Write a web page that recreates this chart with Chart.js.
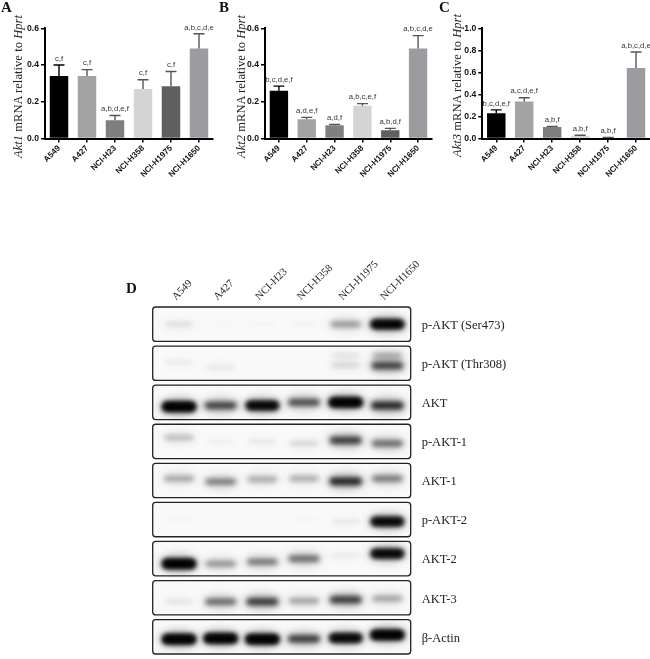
<!DOCTYPE html>
<html>
<head>
<meta charset="utf-8">
<script src="https://cdn.jsdelivr.net/npm/chart.js@4"></script>
<style>
html,body{margin:0;padding:0;background:#fff;width:650px;height:659px;overflow:hidden}
canvas{position:absolute;display:block;filter:blur(.3px)}
.t{position:absolute;font-family:"Liberation Serif",serif;color:#222;white-space:nowrap}
.letter{font-weight:bold;font-size:15px;line-height:15px;color:#111}
.ylab{font-size:12.4px;line-height:14px;width:14px;writing-mode:vertical-rl;transform:rotate(180deg);letter-spacing:.1px}
</style>
</head>
<body>
<canvas id="a" style="left:0;top:0" width="222" height="190"></canvas>
<canvas id="b" style="left:222px;top:0" width="218" height="190"></canvas>
<canvas id="c" style="left:440px;top:0" width="210" height="190"></canvas>
<canvas id="d" style="left:120px;top:240px" width="400" height="419"></canvas>
<div class="t letter" style="left:1px;top:0">A</div>
<div class="t letter" style="left:219px;top:0">B</div>
<div class="t letter" style="left:439px;top:0">C</div>
<div class="t letter" style="left:126px;top:281px">D</div>
<div class="t ylab" style="left:11px;top:15px"><i>Akt1</i> mRNA relative to <i>Hprt</i></div>
<div class="t ylab" style="left:234px;top:15px"><i>Akt2</i> mRNA relative to <i>Hprt</i></div>
<div class="t ylab" style="left:450px;top:14px"><i>Akt3</i> mRNA relative to <i>Hprt</i></div>
<script>
const cellLines = ["A549","A427","NCI-H23","NCI-H358","NCI-H1975","NCI-H1650"];
const barColors = ["#000000","#a3a3a3","#7f7f7f","#d4d4d4","#5f5f5f","#9c9ca0"];

const akt1Values = [0.34,0.34,0.10,0.27,0.285,0.49];
const akt1Upper  = [0.40,0.375,0.125,0.32,0.365,0.57];
const akt1Marks  = ["c,f","c,f","a,b,d,e,f","c,f","c,f","a,b,c,d,e"];

const akt2Values = [0.26,0.105,0.072,0.178,0.045,0.49];
const akt2Upper  = [0.285,0.115,0.077,0.19,0.055,0.56];
const akt2Marks  = ["b,c,d,e,f","a,d,e,f","a,d,f","a,b,c,e,f","a,b,d,f","a,b,c,d,e"];

const akt3Values = [0.23,0.335,0.105,0.025,0.006,0.64];
const akt3Upper  = [0.26,0.37,0.11,0.03,0.01,0.785];
const akt3Marks  = ["b,c,d,e,f","a,c,d,e,f","a,b,f","a,b,f","a,b,f","a,b,c,d,e"];

const blotLanes = ["A549","A427","NCI-H23","NCI-H358","NCI-H1975","NCI-H1650"];
const blotRows = ["p-AKT (Ser473)","p-AKT (Thr308)","AKT","p-AKT-1","AKT-1","p-AKT-2","AKT-2","AKT-3","β-Actin"];

const densitySer473 = [0.12,0.02,0.03,0.04,0.38,0.95];
const densityThr308 = [0.07,0.08,0.0,0.0,0.15,0.72];
const densityAkt    = [1.0,0.72,0.9,0.68,1.0,0.85];
const densityPAkt1  = [0.25,0.05,0.08,0.14,0.75,0.55];
const densityAkt1   = [0.34,0.48,0.32,0.3,0.85,0.5];
const densityPAkt2  = [0.03,0.0,0.0,0.03,0.08,0.88];
const densityAkt2   = [1.0,0.4,0.5,0.55,0.08,0.9];
const densityAkt3   = [0.1,0.55,0.75,0.35,0.75,0.35];
const densityActin  = [1.0,1.0,1.0,0.75,0.88,1.0];
const upperBandThr308 = [0,0,0,0,0.1,0.3];

const migrationSer473 = [0,0,0,0,0,0];
const migrationThr308 = [-0.03,0.1,0.05,0.05,0.05,0.06];
const migrationAkt    = [0.11,0.08,0.08,0,0,0.08];
const migrationPAkt1  = [-0.1,0,0,0.05,-0.03,0.05];
const migrationAkt1   = [-0.05,0.03,-0.03,-0.05,0.02,-0.05];
const migrationPAkt2  = [0,0,0,0,0.05,0.05];
const migrationAkt2   = [0.13,0.13,0.08,0,-0.08,-0.13];
const migrationAkt3   = [0.1,0.1,0.1,0.08,0.05,0.02];
const migrationActin  = [0.06,0.04,0.06,0.05,0.03,-0.05];

const blotDensity = [densitySer473,densityThr308,densityAkt,densityPAkt1,densityAkt1,densityPAkt2,densityAkt2,densityAkt3,densityActin];
const blotMigration = [migrationSer473,migrationThr308,migrationAkt,migrationPAkt1,migrationAkt1,migrationPAkt2,migrationAkt2,migrationAkt3,migrationActin];

const SANS = '"Liberation Sans",Arial,sans-serif';
const SERIF = '"Liberation Serif","Times New Roman",serif';

const errorMarks = {
  id:'errorMarks',
  afterDatasetsDraw(chart,args,opts){
    const {ctx,scales:{y}} = chart;
    const bars = chart.getDatasetMeta(0).data;
    bars.forEach((bar,i)=>{
      const top = y.getPixelForValue(opts.upper[i]);
      ctx.save();
      ctx.strokeStyle = i===0 ? '#000' : '#555';
      ctx.lineWidth = 1.4;
      ctx.beginPath();
      ctx.moveTo(bar.x,bar.y); ctx.lineTo(bar.x,top);
      ctx.moveTo(bar.x-5.5,top); ctx.lineTo(bar.x+5.5,top);
      ctx.stroke();
      ctx.fillStyle = '#333';
      ctx.font = '7.7px '+SANS;
      ctx.textAlign = 'center';
      ctx.textBaseline = 'bottom';
      ctx.fillText(opts.marks[i],bar.x,top-2.5);
      ctx.restore();
    });
  }
};

function barChart(id,values,upper,marks,yMax,step,left,rightPad){
  new Chart(document.getElementById(id),{
    type:'bar',
    data:{labels:cellLines,datasets:[{data:values,backgroundColor:barColors,barPercentage:0.66,categoryPercentage:1}]},
    plugins:[errorMarks],
    options:{
      responsive:false,animation:false,devicePixelRatio:1,
      layout:{padding:{top:28.3,right:rightPad,left:0,bottom:0}},
      plugins:{legend:{display:false},tooltip:{enabled:false},errorMarks:{upper,marks}},
      scales:{
        x:{
          grid:{drawOnChartArea:false,color:'#000',lineWidth:1.5,tickLength:4,offset:false},
          border:{color:'#000',width:2},
          ticks:{autoSkip:false,minRotation:45,maxRotation:45,padding:1,color:'#111',font:{family:SANS,size:8.2,weight:'bold'}},
          afterFit(s){s.height=51.5;s.paddingLeft=0;s.paddingRight=0;}
        },
        y:{
          min:0,max:yMax,
          grid:{drawOnChartArea:false,color:'#000',lineWidth:1.5,tickLength:4},
          border:{color:'#000',width:2},
          ticks:{stepSize:step,padding:2,color:'#111',font:{family:SANS,size:8.6,weight:'bold'},callback:v=>v.toFixed(1)},
          afterFit(s){s.width=left;s.paddingTop=0;s.paddingBottom=0;}
        }
      }
    }
  });
}
barChart('a',akt1Values,akt1Upper,akt1Marks,0.6,0.2,45,9);
barChart('b',akt2Values,akt2Upper,akt2Marks,0.6,0.2,43,8);
barChart('c',akt3Values,akt3Upper,akt3Marks,1.0,0.2,42.3,0);

/* Western-blot panel: each band is a point whose sprite darkness comes from its density value */
const spriteCache = {};
function bandSprite(d){
  const key = d.toFixed(3);
  if(spriteCache[key]) return spriteCache[key];
  const c = document.createElement('canvas');
  c.width = 76; c.height = 40;
  const g = c.getContext('2d');
  const w = 28+5*d, h = 3+6*d;
  g.filter = 'blur(5px)';
  g.fillStyle = 'rgba(0,0,0,'+(0.32*d)+')';
  g.beginPath(); g.ellipse(38,20,w/2+3,h/2+4,0,0,Math.PI*2); g.fill();
  g.filter = 'blur(2.6px)';
  g.fillStyle = 'rgba(0,0,0,'+Math.min(1,d*0.95)+')';
  g.beginPath(); g.roundRect(38-w/2,20-h/2,w,h,h/2); g.fill();
  if(d>0.85){ g.fill(); }
  g.filter = 'none';
  spriteCache[key] = c;
  return c;
}

const bandPoints = [];
blotDensity.forEach((row,r)=>row.forEach((d,l)=>{
  if(d>0) bandPoints.push({x:l,y:r+blotMigration[r][l],d});
}));
upperBandThr308.forEach((d,l)=>{
  if(d>0) bandPoints.push({x:l,y:1-0.2,d});
});

const blotFrames = {
  id:'blotFrames',
  beforeDatasetsDraw(chart){
    const {ctx,chartArea:a,scales:{y}} = chart;
    blotRows.forEach((_,r)=>{
      const t = y.getPixelForValue(r-0.44), b = y.getPixelForValue(r+0.44);
      ctx.fillStyle = '#f9f9f9';
      ctx.beginPath(); ctx.roundRect(a.left,t,a.right-a.left,b-t,3); ctx.fill();
    });
  },
  afterDatasetsDraw(chart){
    const {ctx,chartArea:a,scales:{y}} = chart;
    ctx.save();
    ctx.strokeStyle = '#222'; ctx.lineWidth = 1.3;
    blotRows.forEach((_,r)=>{
      const t = y.getPixelForValue(r-0.44), b = y.getPixelForValue(r+0.44);
      ctx.beginPath(); ctx.roundRect(a.left,t,a.right-a.left,b-t,3); ctx.stroke();
    });
    ctx.restore();
  }
};

new Chart(document.getElementById('d'),{
  type:'scatter',
  data:{datasets:[{data:bandPoints,pointRadius:4,pointStyle:ctx=>bandSprite(ctx.raw?ctx.raw.d:0)}]},
  plugins:[blotFrames],
  options:{
    responsive:false,animation:false,devicePixelRatio:1,
    layout:{padding:{top:0,bottom:2,left:32.7,right:0}},
    plugins:{legend:{display:false},tooltip:{enabled:false}},
    scales:{
      x:{
        type:'linear',position:'top',min:-0.63,max:5.56,
        afterBuildTicks(s){s.ticks=blotLanes.map((_,i)=>({value:i}));},
        grid:{display:false},border:{display:false},
        ticks:{autoSkip:false,minRotation:45,maxRotation:45,padding:-4,labelOffset:4,color:'#222',font:{family:SERIF,size:10.6},callback:v=>blotLanes[v]},
        afterFit(s){s.height=67;s.paddingLeft=0;s.paddingRight=0;}
      },
      y:{
        type:'linear',position:'right',reverse:true,min:-0.44,max:8.44,
        afterBuildTicks(s){s.ticks=blotRows.map((_,i)=>({value:i+0.04}));},
        grid:{display:false},border:{display:false},
        ticks:{autoSkip:false,padding:3,color:'#222',font:{family:SERIF,size:12.5},callback:v=>blotRows[Math.round(v)]},
        afterFit(s){s.width=109.3;s.paddingTop=0;s.paddingBottom=0;}
      }
    }
  }
});
</script>
</body>
</html>
